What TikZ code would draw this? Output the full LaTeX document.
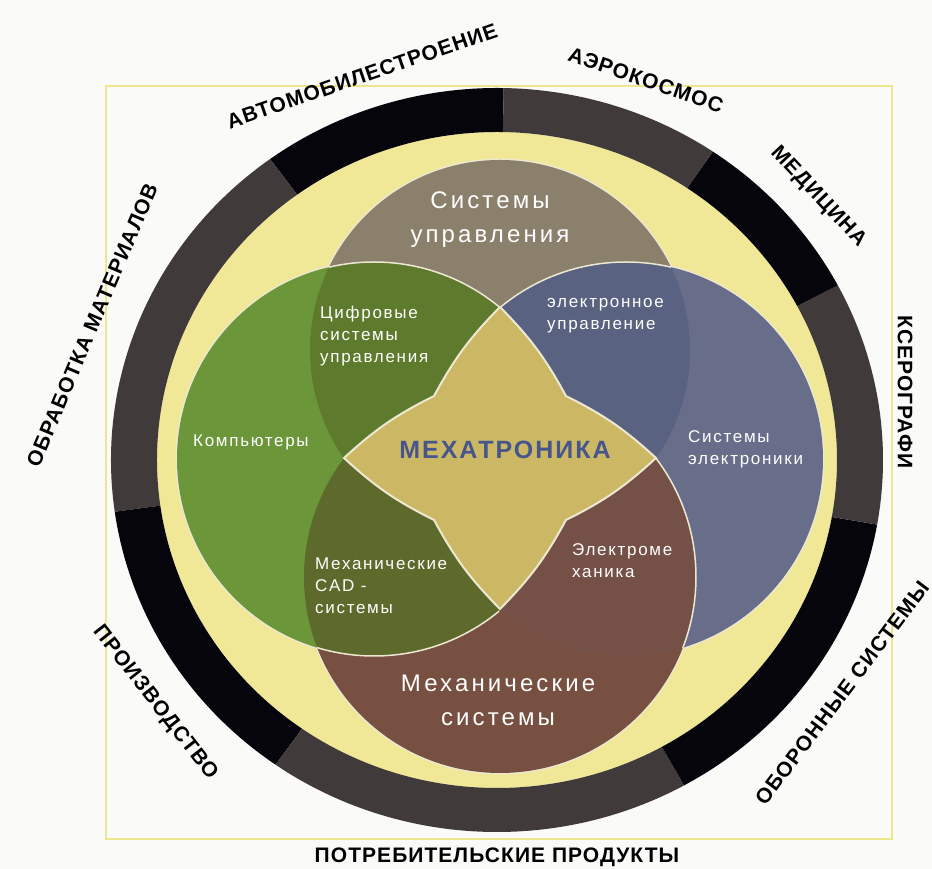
\documentclass[tikz,border=0pt]{standalone}
\usepackage{fontspec}
\setmainfont{Liberation Sans}
\newfontfamily\spacedfont[LetterSpace=10.0]{Liberation Sans}
\newfontfamily\widefont[LetterSpace=13.0]{Liberation Sans}
\newfontfamily\fieldfont[LetterSpace=5.0]{Liberation Sans}
\newfontfamily\mechafont[LetterSpace=8.0]{Liberation Sans}

\definecolor{paper}{RGB}{250,250,248}
\definecolor{framecol}{RGB}{238,230,140}
\definecolor{pale}{RGB}{240,232,150}
\definecolor{ringblack}{RGB}{6,5,12}
\definecolor{ringgrey}{RGB}{64,58,58}
\definecolor{ctop}{RGB}{138,128,108}
\definecolor{cleft}{RGB}{108,150,58}
\definecolor{ctl}{RGB}{94,122,44}
\definecolor{cright}{RGB}{104,110,138}
\definecolor{ctr}{RGB}{90,98,130}
\definecolor{cbot}{RGB}{120,80,66}
\definecolor{crb}{RGB}{116,80,70}
\definecolor{clb}{RGB}{94,106,44}
\definecolor{cstar}{RGB}{204,184,100}
\definecolor{rimcol}{RGB}{236,232,210}
\definecolor{mechatext}{RGB}{70,86,140}

\tikzstyle{field} = [font=\fieldfont\bfseries\fontsize{21}{24}\selectfont, inner sep=0pt]
\tikzstyle{area} = [text=white, font=\spacedfont\fontsize{17}{22}\selectfont, align=left, inner sep=0pt]
\tikzstyle{bigarea} = [text=white, font=\widefont\fontsize{24}{34}\selectfont, align=center, inner sep=0pt]
\tikzstyle{rim} = [draw=rimcol, line width=1.5pt]

% the four discs
\def\circTop{(0,110) circle (190)}
\def\circBot{(0,-117) circle (196)}
\def\circLeft{(-126,1) circle (197)}
\def\circRight{(126,1) circle (197)}

\begin{document}
\begin{tikzpicture}[x=1pt, y=1pt]
\useasboundingbox (-500,-409) rectangle (432,460);
\fill [paper] (-500,-409) rectangle (432,460);

% frame
\draw [framecol, line width=1.5pt] (-394,-379) rectangle (392,374);

% outer ring, black and grey sectors
\begin{scope}[shift={(-3,0)}]
\fill [pale] (0,0) ellipse [x radius=340, y radius=328];
\foreach \a/\b/\c in {89/126/ringblack, 126/188/ringgrey, 188/235/ringblack, 235/299/ringgrey,
                      299/350/ringblack, 350/388/ringgrey, 388/416/ringblack, 416/449/ringgrey}
  \fill [\c] (\a:386 and 372) arc [start angle=\a, end angle=\b, x radius=386, y radius=372]
    -- (\b:340 and 328) arc [start angle=\b, end angle=\a, x radius=340, y radius=328] -- cycle;
\end{scope}

% outer rims of the discs
\draw [rim, line width=3pt] \circTop;
\draw [rim, line width=3pt] \circBot;
\draw [rim, line width=3pt] \circLeft;
\draw [rim, line width=3pt] \circRight;

% upper left
\begin{scope}
\clip (-450,1.5) rectangle (0.5,450);
\fill [ctop] \circTop;
\fill [cleft] \circLeft;
\begin{scope} \clip \circTop; \fill [ctl] \circLeft; \draw [rim] \circLeft; \end{scope}
\end{scope}

% upper right
\begin{scope}
\clip (-0.5,1.5) rectangle (450,450);
\fill [ctop] \circTop;
\fill [cright] \circRight;
\begin{scope} \clip \circTop; \fill [ctr] \circRight; \draw [rim] \circRight; \end{scope}
\end{scope}

% lower left
\begin{scope}
\clip (-450,-450) rectangle (0.5,2.5);
\fill [cbot] \circBot;
\fill [cleft] \circLeft;
\begin{scope} \clip \circBot; \fill [clb] \circLeft; \draw [rim] \circLeft; \end{scope}
\end{scope}

% lower right
\begin{scope}
\clip (-0.5,-450) rectangle (450,2.5);
\fill [cright] \circRight;
\fill [cbot] \circBot;
\begin{scope} \clip \circRight; \fill [crb] \circBot; \draw [rim] \circBot; \end{scope}
\end{scope}

% star in the middle
\path [draw=rimcol, line width=2pt, fill=cstar]
  (0,153) to [bend left=8] (66,64) to [bend left=8] (156,2) to [bend left=8] (66,-60)
  to [bend left=8] (0,-149) to [bend left=8] (-66,-60) to [bend left=8] (-156,2)
  to [bend left=8] (-66,64) to [bend left=8] cycle;

% texts inside
\node [bigarea] at (-10,240) (sysCtrl) {Системы\\управления};
\node [area, anchor=west] at (-180,124) (digCtrl) {Цифровые\\системы\\управления};
\node [area, anchor=west] at (47,144) (elCtrl) {электронное\\управление};
\node [area, anchor=west] at (-307,18) (comp) {Компьютеры};
\node [area, anchor=west] at (188,11) (elSys) {Системы\\электроники};
\node [area, anchor=west] at (-185,-126) (cad) {Механические\\CAD -\\системы};
\node [area, anchor=west] at (72,-101) (elMech) {Электроме\\ханика};
\node [bigarea] at (-2,-240) (mechSys) {Механические\\системы};
\node [font=\mechafont\bfseries\fontsize{25}{28}\selectfont, text=mechatext] at (5,10) (mecha) {МЕХАТРОНИКА};

% fields around the ring
\node [field, rotate=19] at (-138,384) (fAuto) {АВТОМОБИЛЕСТРОЕНИЕ};
\node [field, rotate=-19] at (146,380) (fAero) {АЭРОКОСМОС};
\node [field, rotate=-47] at (318,263) (fMed) {МЕДИЦИНА};
\node [field, rotate=-90] at (405,68) (fXero) {КСЕРОГРАФИ};
\node [field, rotate=53] at (342,-233) (fDef) {ОБОРОННЫЕ СИСТЕМЫ};
\node [field] at (-3,-397) (fCons) {ПОТРЕБИТЕЛЬСКИЕ ПРОДУКТЫ};
\node [field, rotate=-52] at (-345,-243) (fProd) {ПРОИЗВОДСТВО};
\node [field, rotate=67] at (-408,135) (fMat) {ОБРАБОТКА МАТЕРИАЛОВ};
\end{tikzpicture}
\end{document}
